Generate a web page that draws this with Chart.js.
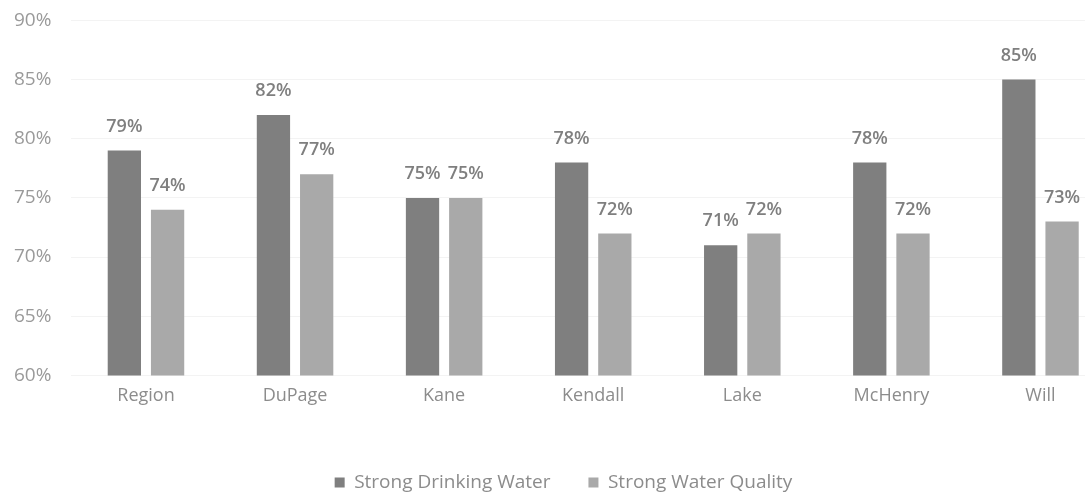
<!DOCTYPE html>
<html>
<head>
<meta charset="utf-8">
<script src="https://cdn.jsdelivr.net/npm/chart.js@4/dist/chart.umd.min.js"></script>
<style>
  html, body { margin: 0; padding: 0; background: #fff; overflow: hidden; }
  #wrap { position: relative; top: -11px; left: -6px; width: 1176px; height: 516px; }
</style>
</head>
<body>
<div id="wrap"><canvas id="chart"></canvas></div>
<script>
'use strict';

// data
const categories = ['Region', 'DuPage', 'Kane', 'Kendall', 'Lake', 'McHenry', 'Will'];
const drinkingWater = [79, 82, 75, 78, 71, 78, 85];
const waterQuality = [74, 77, 75, 72, 72, 72, 73];
const seriesNames = ['Strong Drinking Water', 'Strong Water Quality'];
const yTicks = [60, 65, 70, 75, 80, 85, 90];

const FONT = '"Open Sans", "Noto Sans", sans-serif';

// draws the percentage above every bar
const barLabels = {
  id: 'barLabels',
  afterDatasetsDraw(chart) {
    const ctx = chart.ctx;
    ctx.save();
    ctx.font = `600 18px ${FONT}`;
    ctx.fillStyle = '#7f7f7f';
    ctx.textAlign = 'center';
    ctx.textBaseline = 'bottom';
    chart.data.datasets.forEach((ds, i) => {
      chart.getDatasetMeta(i).data.forEach((bar, j) => {
        ctx.fillText(ds.data[j] + '%', bar.x, bar.y - 15);
      });
    });
    ctx.restore();
  }
};

// nudges the legend box a little to sit where the original has it
const legendNudge = {
  id: 'legendNudge',
  afterLayout(chart) {
    const lg = chart.legend;
    lg.left += 9; lg.right += 9;
    lg.top -= 3; lg.bottom -= 3;
  }
};

new Chart(document.getElementById('chart'), {
  type: 'bar',
  data: {
    labels: categories,
    datasets: [
      { label: seriesNames[0], data: drinkingWater, backgroundColor: '#7f7f7f' },
      { label: seriesNames[1], data: waterQuality, backgroundColor: '#a9a9a9' }
    ]
  },
  options: {
    responsive: true,
    maintainAspectRatio: false,
    animation: false,
    categoryPercentage: 0.58,
    barPercentage: 0.77,
    layout: { padding: { top: 1, right: 55, bottom: 0, left: 0 } },
    scales: {
      x: {
        grid: { display: false },
        border: { display: false },
        ticks: { color: '#8c8c8c', font: { family: FONT, size: 18 }, padding: 2 },
        afterFit(scale) { scale.height += 29; }
      },
      y: {
        min: 60,
        max: 90,
        afterBuildTicks(scale) { scale.ticks = yTicks.map(v => ({ value: v })); },
        grid: { color: '#f3f3f3', drawTicks: false },
        border: { display: false },
        ticks: {
          color: '#9a9a9a',
          font: { family: FONT, size: 19 },
          padding: 20,
          callback: v => v + '%'
        }
      }
    },
    plugins: {
      legend: {
        position: 'bottom',
        labels: {
          boxWidth: 10,
          boxHeight: 10,
          padding: 38,
          color: '#8c8c8c',
          font: { family: FONT, size: 19 }
        }
      },
      tooltip: { enabled: false }
    }
  },
  plugins: [barLabels, legendNudge]
});
</script>
</body>
</html>
